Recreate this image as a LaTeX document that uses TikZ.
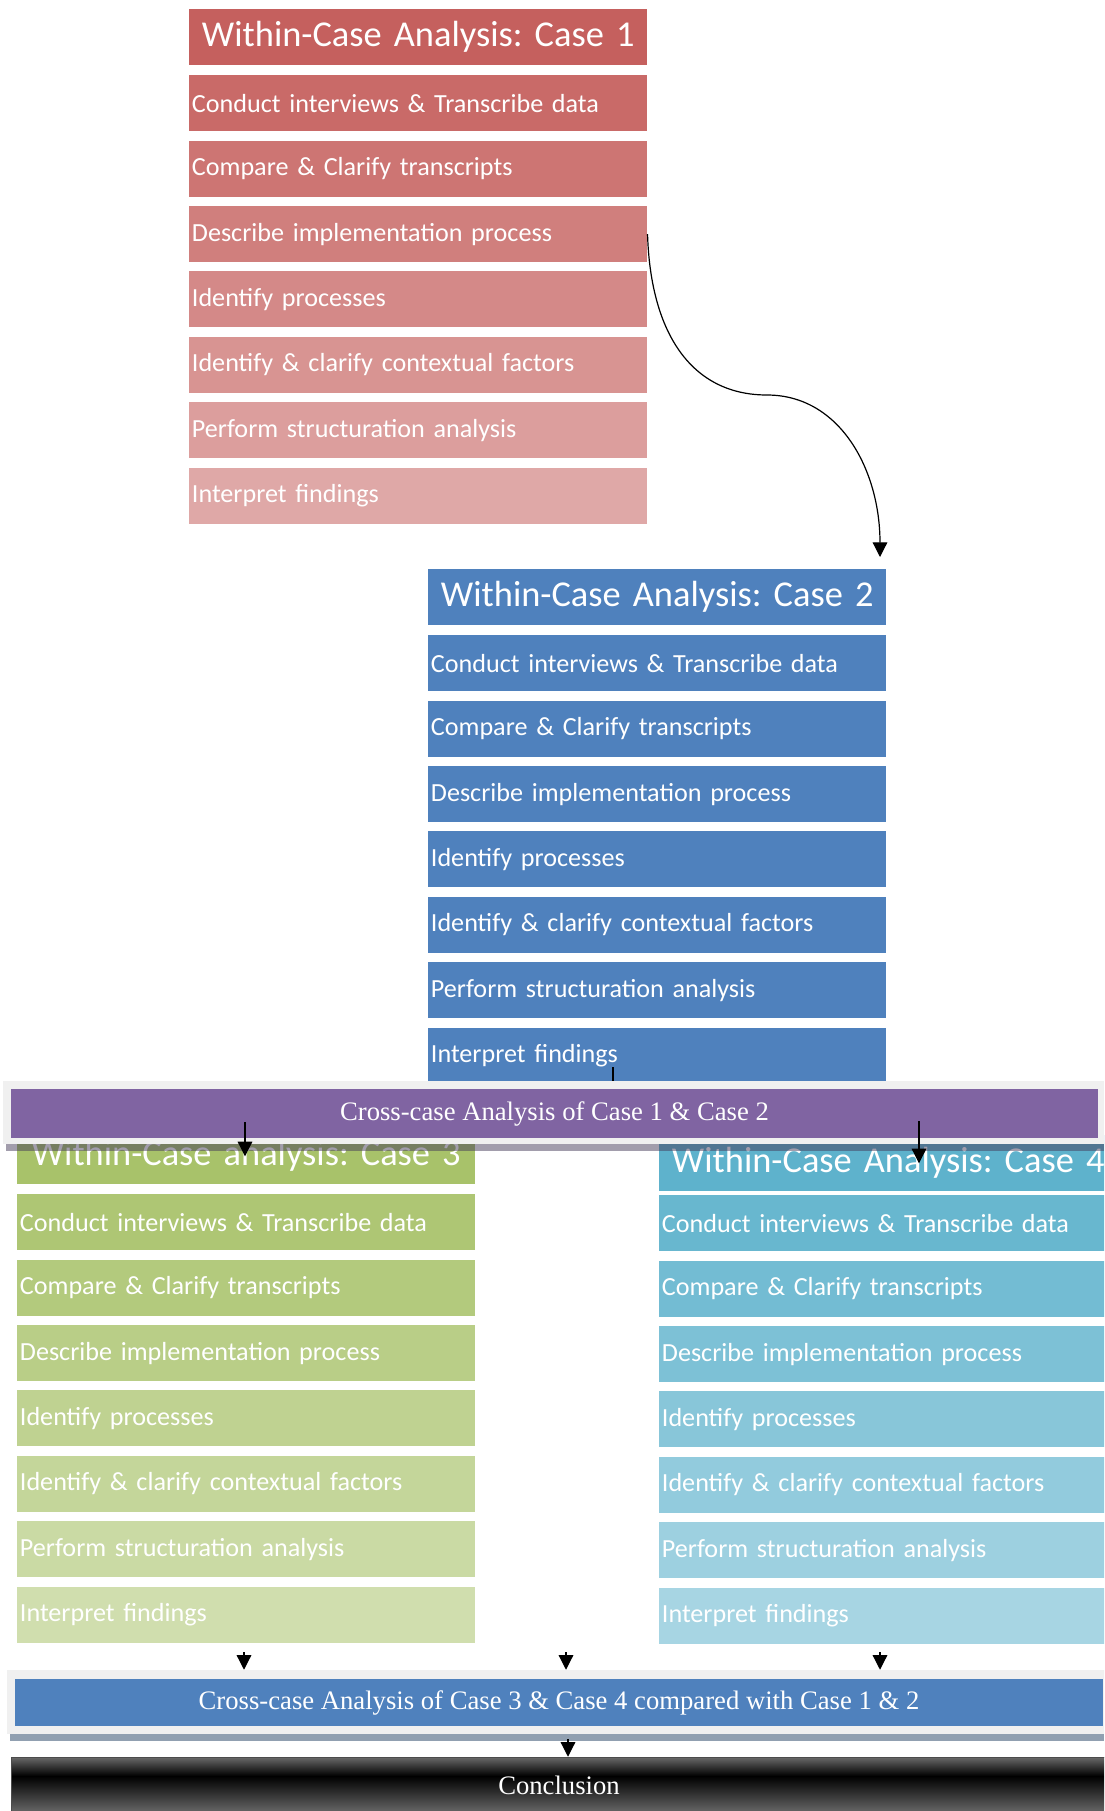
\documentclass[tikz,border=0pt]{standalone}
\usepackage{fontspec}
\setmainfont{Carlito}
\newfontfamily\barfont{Liberation Serif}
\usetikzlibrary{arrows.meta}
\frenchspacing

\definecolor{case1}{RGB}{197,96,94}
\definecolor{case2}{RGB}{79,129,189}
\definecolor{case3}{RGB}{168,194,106}
\definecolor{case4}{RGB}{94,178,204}
\definecolor{crosspurple}{RGB}{128,100,162}
\definecolor{crossblue}{RGB}{79,129,189}
\definecolor{panelgray}{RGB}{240,240,240}
\definecolor{conclgray}{RGB}{105,105,105}
\pgfdeclareverticalshading{conclshade}{100bp}{color(0bp)=(conclgray); color(25bp)=(conclgray); color(58bp)=(black); color(75bp)=(conclgray); color(100bp)=(conclgray)}

\tikzset{
    casehead/.style={anchor=north west, inner sep=0pt, minimum height=42pt,
        text width=343.5pt, align=center, text=white, font=\fontsize{27.3}{31}\selectfont},
    caserow/.style={anchor=north west, inner xsep=2pt, inner ysep=0pt, minimum height=42pt,
        text width=339.5pt, align=left, text=white, font=\fontsize{19.6}{23}\selectfont},
    panel/.style={fill=panelgray, inner sep=0pt},
    crossbar/.style={inner sep=0pt, text=white, font=\barfont\fontsize{20}{24}\selectfont},
    strip/.style={fill opacity=0.5},
    arr/.style={-{Triangle[width=11pt,length=11pt]}, line width=0.9pt}
}

\begin{document}
\begin{tikzpicture}[x=0.75pt, y=-0.75pt]
    \useasboundingbox (0,0) rectangle (1104,1811);
    \clip (0,0) rectangle (1104,1811);

    % the four within-case columns
    \foreach \k/\cx/\cy/\roff/\tstep/\ctitle in {
        1/189/9/66/6.5/{Within-Case Analysis: Case 1},
        2/428/569/66/0/{Within-Case Analysis: Case 2},
        3/17/1128/66/6.5/{Within-Case analysis: Case 3},
        4/659/1135/60/6.5/{Within-Case Analysis: Case 4}} {
        \node[casehead, fill=case\k] (case\k-head) at (\cx,\cy) {\ctitle};
        \foreach \t [count=\i] in {Conduct interviews \& Transcribe data,
            Compare \& Clarify transcripts, Describe implementation process,
            Identify processes, Identify \& clarify contextual factors,
            Perform structuration analysis, Interpret findings} {
            \pgfmathsetmacro\tint{100-\tstep*\i}
            \pgfmathsetmacro\ry{\cy+\roff+65.4*(\i-1)}
            \node[caserow, fill=case\k!\tint!white] (case\k-r\i) at (\cx,\ry) {\t};
        }
    }

    \coordinate (c2in) at (880,557);
    \draw[arr] (case1-r3.east) .. controls +(3,100) and +(-75,0) .. (767,395)
        .. controls +(73,0) and +(0,-87) .. (c2in);

    \coordinate (c2out) at (613,1067);
    \draw[arr] (c2out) -- ++(0,45);

    % first cross-case bar
    \node[panel, minimum width=825.75pt, minimum height=47.25pt] (panel1) at (553.5,1112.5) {};
    \node[crossbar, fill=crosspurple, minimum width=815.25pt, minimum height=36.75pt]
        (cross1) at (554.5,1113.5) {Cross-case Analysis of Case 1 \& Case 2};
    \fill[strip, fill={rgb,255:red,70;green,60;blue,90}] (6,1144) rectangle (1104,1151);

    \coordinate (a3) at (245,1122);
    \coordinate (a4) at (919,1121);
    \draw[arr] (a3) -- (a3 |- case3-head.center);
    \draw[arr] (a4) -- (a4 |- case4-head.center);

    % second cross-case bar and conclusion
    \node[panel, minimum width=827.25pt, minimum height=48pt] (panel2) at (558.5,1702) {};
    \node[crossbar, fill=crossblue, minimum width=816pt, minimum height=35.25pt]
        (cross2) at (559,1702.5) {Cross-case Analysis of Case 3 \& Case 4 compared with Case 1 \& 2};
    \fill[strip, fill={rgb,255:red,35;green,65;blue,100}] (10,1734) rectangle (1104,1741);

    \node[crossbar, shading=conclshade, draw=black!70, minimum width=822pt, minimum height=42pt]
        (concl) at (559,1785) {Conclusion};

    \foreach \ax in {244,566,880} {
        \coordinate (b\ax) at (\ax,1652);
        \draw[arr] (b\ax) -- (b\ax |- panel2.north);
    }
    \coordinate (bc) at (568,1739);
    \draw[arr] (bc) -- (bc |- concl.north);
\end{tikzpicture}
\end{document}
